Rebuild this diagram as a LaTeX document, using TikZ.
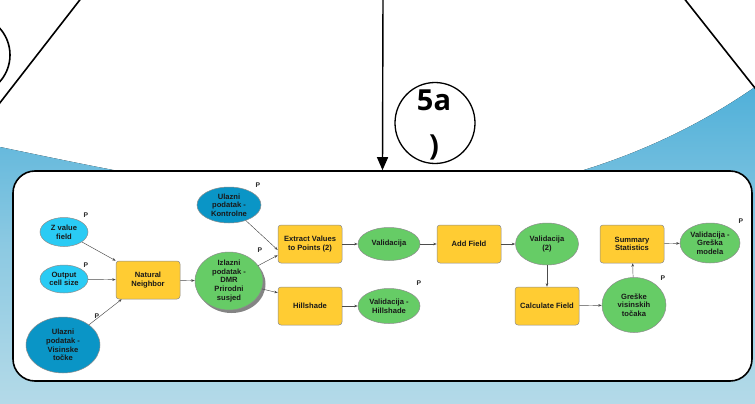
\documentclass[tikz,border=0pt]{standalone}
\usepackage{fontspec}
\setmainfont{Liberation Sans}
\newfontfamily\tagfont{Open Sans}
\usetikzlibrary{shapes.geometric,arrows.meta,shadows}

\definecolor{skyA}{HTML}{50B0D9}
\definecolor{skyB}{HTML}{B4DAE8}
\definecolor{inlight}{HTML}{2ACBF4}
\definecolor{indark}{HTML}{0A95C6}
\definecolor{outgreen}{HTML}{66CC66}
\definecolor{toolgold}{HTML}{FFCC33}

\tikzset{
  lbl/.style={font=\bfseries\fontsize{7.6}{8.6}\selectfont, text=black!90, align=center},
  toolbox/.style={lbl, rectangle, rounded corners=3pt, draw=black!45, line width=0.5pt,
    fill=toolgold, minimum width=64pt, minimum height=38pt, inner sep=1pt},
  dataell/.style={lbl, ellipse, draw=black!45, line width=0.5pt, inner sep=-2pt},
  inL/.style={dataell, fill=inlight},
  inD/.style={dataell, fill=indark},
  outG/.style={dataell, fill=outgreen},
  pmark/.style={font=\bfseries\fontsize{6.8}{7}\selectfont, text=black!85, inner sep=0pt},
  flow/.style={draw=black!70, line width=0.45pt, -{Stealth[length=3.5pt,width=2.6pt]}},
  bigline/.style={line width=1.6pt, black}
}

\begin{document}
\begin{tikzpicture}[x=1pt,y=-1pt]
\useasboundingbox (0,0) rectangle (755,404);
\clip (0,0) rectangle (755,404);

% background swoosh
\fill[top color=skyA, bottom color=skyB, middle color=skyB!60!skyA]
  (0,147) .. controls (120,172) and (250,200) .. (383,200)
  .. controls (520,200) and (650,160) .. (755,87)
  -- (755,404) -- (0,404) -- cycle;

% outline shapes of the larger scheme above
\draw[bigline] (-30,55) circle (40pt);
\draw[bigline] (86,-8) -- (-8,113);
\draw[bigline] (679,-8) -- (770,107);

% model panel
\node[draw, line width=1.6pt, rounded corners=22pt, fill=white,
      minimum width=739pt, minimum height=210pt, inner sep=0pt] (panel) at (382.5,276) {};

% step tag
\node[ellipse, draw, line width=1.3pt, fill=white, minimum width=80pt, minimum height=81pt, inner sep=0pt]
  (tag) at (435,123) {};
\node[font=\tagfont\bfseries\fontsize{29}{45}\selectfont, align=center, inner sep=0pt] (tagtxt)
  at (434,125) {5a\\)};

\coordinate (src) at (383,-5);
\draw[line width=1.4pt, -{Triangle[length=13pt,width=11pt]}] (src) -- (panel.north);

% inputs
\node[inL, minimum width=48pt, minimum height=29pt] (zval) at (64,232) {Z value\\field};
\node[inL, minimum width=48pt, minimum height=28pt] (cell) at (64,279) {Output\\cell size};
\node[inD, minimum width=74pt, minimum height=56pt] (visin) at (63,345) {Ulazni\\podatak -\\Visinske\\točke};
\node[inD, minimum width=64pt, minimum height=36pt] (kontr) at (229,205) {Ulazni\\podatak -\\Kontrolne};

% tools
\node[toolbox] (natn) at (148,280) {Natural\\Neighbor};
\node[toolbox] (extr) at (310,244) {Extract Values\\to Points (2)};
\node[toolbox] (hill) at (310,306) {Hillshade};
\node[toolbox] (addf) at (469,244) {Add Field};
\node[toolbox] (calc) at (547,306) {Calculate Field};
\node[toolbox] (summ) at (632,244) {Summary\\Statistics};

% derived data
\node[outG, minimum width=68pt, minimum height=58pt,
      drop shadow={shadow xshift=2.5pt, shadow yshift=-3pt, fill=black!60, opacity=0.8}]
  (dmr) at (229,281) {Izlazni\\podatak -\\DMR\\Prirodni\\susjed};
\node[outG, minimum width=62pt, minimum height=33pt] (val) at (389,244) {Validacija};
\node[outG, minimum width=62pt, minimum height=35pt] (valh) at (389,306) {Validacija -\\Hillshade};
\node[outG, minimum width=63pt, minimum height=42pt] (val2) at (547,244) {Validacija\\(2)};
\node[outG, minimum width=64pt, minimum height=55pt] (gres) at (634,305) {Greške\\visinskih\\točaka};
\node[outG, minimum width=60pt, minimum height=40pt] (valg) at (710,243) {Validacija -\\Greška\\modela};

% parameter markers
\node[pmark] (p1) at (86,215) {P};
\node[pmark] (p2) at (86,265) {P};
\node[pmark] (p3) at (97,316) {P};
\node[pmark] (p4) at (258,185) {P};
\node[pmark] (p5) at (260,250) {P};
\node[pmark] (p6) at (419,283) {P};
\node[pmark] (p7) at (663,278) {P};
\node[pmark] (p8) at (741,221) {P};

% connectors
\draw[flow] (zval) -- (natn.north west);
\draw[flow] (cell) -- (natn);
\draw[flow] (visin) -- ([xshift=6pt]natn.south west);
\draw[flow] (natn) -- (dmr);
\draw[flow] (kontr) -- ([yshift=-6pt]extr.west);
\draw[flow] (dmr) -- ([yshift=8pt]extr.south west);
\draw[flow] (dmr) -- ([yshift=-6pt]hill.north west);
\draw[flow] (extr) -- (val);
\draw[flow] (hill) -- (valh);
\draw[flow] (val) -- (addf);
\draw[flow] (addf) -- (val2);
\draw[flow] (val2) -- (calc);
\draw[flow] (calc) -- (gres);
\draw[flow] (gres) -- (summ);
\draw[flow] (summ) -- (valg);
\end{tikzpicture}
\end{document}
